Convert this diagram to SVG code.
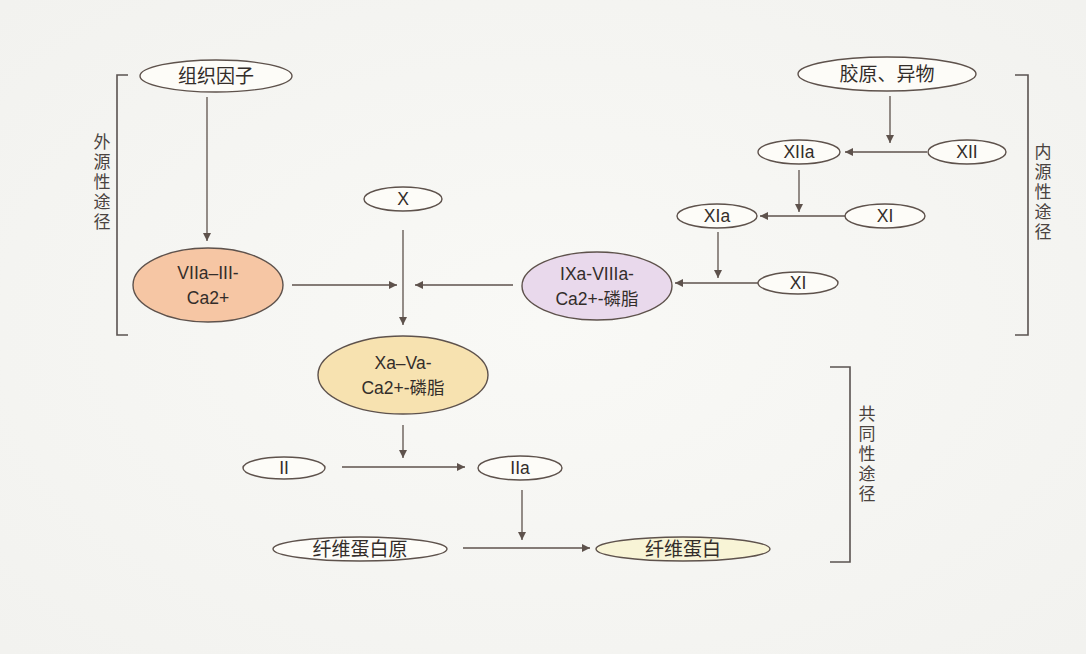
<svg xmlns="http://www.w3.org/2000/svg" width="1086" height="654" viewBox="0 0 1086 654">
<style>
text{font-family:"Liberation Sans","Noto Sans CJK SC",sans-serif;fill:#332d2a;text-anchor:middle}
.lbl{font-size:17.5px}
.cjk{font-size:19px}
.side{font-size:17px;fill:#4a4340}
.node{stroke:#5e524c;stroke-width:1.4}
.plain{fill:#fdfcf8}
.ln{stroke:#5e524c;stroke-width:1.3;fill:none}
.br{stroke:#5a5350;stroke-width:1.6;fill:none}
</style>
<defs>
<marker id="ah" viewBox="0 0 10 10" refX="10" refY="5" markerWidth="8" markerHeight="8" markerUnits="userSpaceOnUse" orient="auto">
<path d="M0,0 L10,5 L0,10 z" fill="#5e524c"/>
</marker>
<radialGradient id="bg" cx="0.5" cy="0.5" r="0.7">
<stop offset="0" stop-color="#f9f9f6"/>
<stop offset="1" stop-color="#f2f2ef"/>
</radialGradient>
</defs>
<rect width="1086" height="654" fill="url(#bg)"/>

<g id="brackets">
<path class="br" d="M128,75 H117 V335 H128"/>
<text class="side" x="102" y="148">外</text>
<text class="side" x="102" y="168">源</text>
<text class="side" x="102" y="188">性</text>
<text class="side" x="102" y="208">途</text>
<text class="side" x="102" y="228">径</text>
<path class="br" d="M1015,75 H1028 V335 H1015"/>
<text class="side" x="1043" y="158">内</text>
<text class="side" x="1043" y="178">源</text>
<text class="side" x="1043" y="198">性</text>
<text class="side" x="1043" y="218">途</text>
<text class="side" x="1043" y="238">径</text>
<path class="br" d="M830,367 H850 V562 H830"/>
<text class="side" x="867" y="420">共</text>
<text class="side" x="867" y="440">同</text>
<text class="side" x="867" y="460">性</text>
<text class="side" x="867" y="480">途</text>
<text class="side" x="867" y="500">径</text>
</g>

<g id="connectors">
<line class="ln" x1="207" y1="97" x2="207" y2="241" marker-end="url(#ah)"/>
<line class="ln" x1="890" y1="96" x2="890" y2="143" marker-end="url(#ah)"/>
<line class="ln" x1="927" y1="152" x2="845" y2="152" marker-end="url(#ah)"/>
<line class="ln" x1="799" y1="170" x2="799" y2="212" marker-end="url(#ah)"/>
<line class="ln" x1="845" y1="216" x2="760" y2="216" marker-end="url(#ah)"/>
<line class="ln" x1="718" y1="232" x2="718" y2="278" marker-end="url(#ah)"/>
<line class="ln" x1="758" y1="283" x2="675" y2="283" marker-end="url(#ah)"/>
<line class="ln" x1="513" y1="285" x2="415" y2="285" marker-end="url(#ah)"/>
<line class="ln" x1="292" y1="285" x2="397" y2="285" marker-end="url(#ah)"/>
<line class="ln" x1="403" y1="230" x2="403" y2="325" marker-end="url(#ah)"/>
<line class="ln" x1="403" y1="425" x2="403" y2="458" marker-end="url(#ah)"/>
<line class="ln" x1="342" y1="467" x2="465" y2="467" marker-end="url(#ah)"/>
<line class="ln" x1="522" y1="490" x2="522" y2="540" marker-end="url(#ah)"/>
<line class="ln" x1="463" y1="548" x2="590" y2="548" marker-end="url(#ah)"/>
</g>

<g id="n-tf">
<ellipse class="node plain" cx="216" cy="76" rx="76" ry="16"/>
<text class="cjk" x="216" y="83">组织因子</text>
</g>
<g id="n-collagen">
<ellipse class="node plain" cx="887" cy="74" rx="89" ry="17"/>
<text class="cjk" x="887" y="81">胶原、异物</text>
</g>
<g id="n-xiia">
<ellipse class="node plain" cx="799" cy="152" rx="41" ry="12"/>
<text class="lbl" x="799" y="158">XIIa</text>
</g>
<g id="n-xii">
<ellipse class="node plain" cx="967" cy="152" rx="39" ry="12"/>
<text class="lbl" x="967" y="158">XII</text>
</g>
<g id="n-xia">
<ellipse class="node plain" cx="717" cy="216" rx="40" ry="12"/>
<text class="lbl" x="717" y="222">XIa</text>
</g>
<g id="n-xi1">
<ellipse class="node plain" cx="885" cy="216" rx="40" ry="12"/>
<text class="lbl" x="885" y="222">XI</text>
</g>
<g id="n-xi2">
<ellipse class="node plain" cx="798" cy="283" rx="40" ry="11"/>
<text class="lbl" x="798" y="289">XI</text>
</g>
<g id="n-x">
<ellipse class="node plain" cx="403" cy="199" rx="39" ry="12"/>
<text class="lbl" x="403" y="205">X</text>
</g>
<g id="n-viia">
<ellipse class="node" cx="208" cy="285" rx="75" ry="37" fill="#f6c6a4"/>
<text class="lbl" x="208" y="279">VIIa–III-</text>
<text class="lbl" x="208" y="304">Ca2+</text>
</g>
<g id="n-ixa">
<ellipse class="node" cx="597" cy="286" rx="75" ry="34" fill="#e9d9ec"/>
<text class="lbl" x="597" y="280">IXa-VIIIa-</text>
<text class="lbl" x="597" y="305">Ca2+-磷脂</text>
</g>
<g id="n-xa">
<ellipse class="node" cx="403" cy="375" rx="85" ry="39" fill="#f7e2b0"/>
<text class="lbl" x="403" y="369">Xa–Va-</text>
<text class="lbl" x="403" y="394">Ca2+-磷脂</text>
</g>
<g id="n-ii">
<ellipse class="node plain" cx="284" cy="468" rx="41" ry="11"/>
<text class="lbl" x="284" y="474">II</text>
</g>
<g id="n-iia">
<ellipse class="node plain" cx="520" cy="468" rx="42" ry="12"/>
<text class="lbl" x="520" y="474">IIa</text>
</g>
<g id="n-fibrinogen">
<ellipse class="node plain" cx="360" cy="549" rx="87" ry="12"/>
<text class="cjk" x="360" y="556">纤维蛋白原</text>
</g>
<g id="n-fibrin">
<ellipse class="node" cx="683" cy="549" rx="87" ry="12" fill="#f8f4d6"/>
<text class="cjk" x="683" y="556">纤维蛋白</text>
</g>
</svg>
